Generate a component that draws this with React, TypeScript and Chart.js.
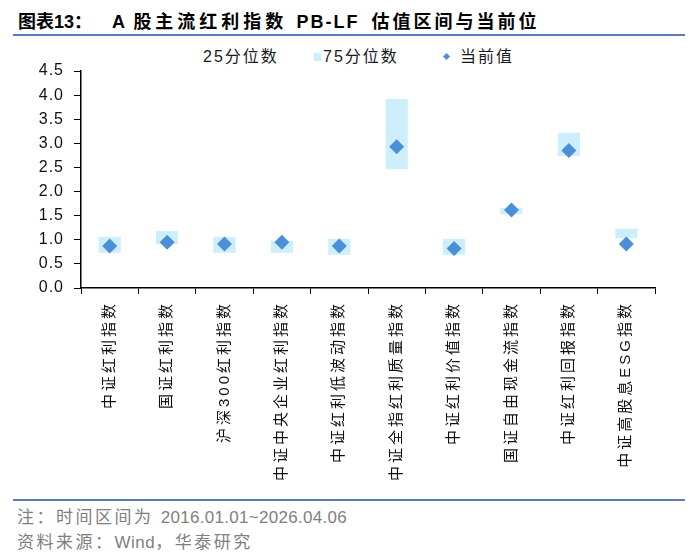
import React, { useEffect, useRef } from 'react';
import { Chart, registerables } from 'chart.js';

Chart.register(...registerables);

// 数据
const categories = [
  '中证红利指数',
  '国证红利指数',
  '沪深300红利指数',
  '中证中央企业红利指数',
  '中证红利低波动指数',
  '中证全指红利质量指数',
  '中证红利价值指数',
  '国证自由现金流指数',
  '中证红利回报指数',
  '中证高股息ESG指数',
];
const q25 = [0.73, 0.91, 0.73, 0.73, 0.69, 2.46, 0.69, 1.53, 2.74, 1.03];
const q75 = [1.06, 1.18, 1.06, 0.98, 1.02, 3.92, 1.02, 1.66, 3.22, 1.23];
const current = [0.87, 0.95, 0.91, 0.95, 0.87, 2.93, 0.82, 1.62, 2.85, 0.91];
const seriesNames = ['25分位数', '75分位数', '当前值'];
const yMin = 0;
const yMax = 4.5;
const yStep = 0.5;

const FONT = '"Liberation Sans", Arial, "Noto Sans CJK SC", sans-serif';
const BOX_COLOR = '#CDEEFB';
const DOT_COLOR = '#4A8FD8';
const RULE_COLOR = '#5B7DB5';

// 画布文字字距（Chart.js 本身不支持 letterSpacing）
const spacing: Record<string, string> = { x: '3px', y: '1px' };
const letterSpacingPlugin = {
  id: 'letterSpacing',
  beforeDraw(chart: any) {
    Object.keys(spacing).forEach((id) => {
      const scale = chart.scales[id];
      if (!scale || scale._spaced) return;
      const orig = scale.drawLabels;
      scale.drawLabels = function (area: any) {
        const ctx = chart.ctx;
        ctx.save();
        ctx.letterSpacing = spacing[id];
        orig.call(this, area);
        ctx.restore();
      };
      scale._spaced = true;
    });
  },
};

const App: React.FC = () => {
  const canvasRef = useRef<HTMLCanvasElement>(null);

  useEffect(() => {
    document.body.style.margin = '0';
    if (!canvasRef.current) return;

    const chart = new Chart(canvasRef.current, {
      type: 'bar',
      data: {
        labels: categories,
        datasets: [
          {
            label: seriesNames[0],
            data: q25,
            backgroundColor: 'rgba(0,0,0,0)',
            borderWidth: 0,
            categoryPercentage: 1,
            barPercentage: 0.385,
            order: 3,
          },
          {
            label: seriesNames[1],
            data: q25.map((v, i) => [v, q75[i]]) as any,
            backgroundColor: BOX_COLOR,
            borderWidth: 0,
            categoryPercentage: 1,
            barPercentage: 0.385,
            order: 2,
          },
          {
            type: 'line',
            label: seriesNames[2],
            data: current,
            showLine: false,
            pointStyle: 'rectRot',
            pointRadius: 7.5,
            pointBackgroundColor: DOT_COLOR,
            pointBorderWidth: 0,
            order: 1,
          } as any,
        ],
      },
      options: {
        responsive: true,
        maintainAspectRatio: false,
        animation: false,
        layout: { padding: { top: 31, right: 45, bottom: 0, left: 0 } },
        plugins: {
          legend: { display: false },
          tooltip: { enabled: false },
        },
        scales: {
          x: {
            stacked: true,
            offset: true,
            grid: {
              offset: true,
              drawOnChartArea: false,
              drawTicks: true,
              tickLength: 6,
              color: '#000',
            },
            border: { display: true, color: '#000', width: 1.5 },
            ticks: {
              autoSkip: false,
              minRotation: 90,
              maxRotation: 90,
              padding: 7,
              color: '#111',
              font: { family: FONT, size: 15 },
            },
            afterFit: (scale: any) => {
              scale.height = 212;
            },
          },
          y: {
            stacked: false,
            min: yMin,
            max: yMax,
            grid: {
              drawOnChartArea: false,
              drawTicks: true,
              tickLength: 7,
              color: '#000',
            },
            border: { display: true, color: '#000', width: 1.5 },
            ticks: {
              stepSize: yStep,
              padding: 10,
              color: '#111',
              font: { family: FONT, size: 16 },
              callback: (v: any) => Number(v).toFixed(1),
            },
            afterFit: (scale: any) => {
              scale.width = 81;
            },
          },
        },
      },
      plugins: [letterSpacingPlugin],
    });

    return () => chart.destroy();
  }, []);

  const legendText = { position: 'absolute' as const, top: 45, fontSize: 16, lineHeight: '24px', color: '#1a1a1a', letterSpacing: 2, whiteSpace: 'pre' as const };

  return (
    <div style={{ position: 'relative', width: 700, height: 560, background: '#fff', fontFamily: FONT, overflow: 'hidden' }}>
      {/* 标题 */}
      <div style={{ position: 'absolute', left: 18, top: 9, fontSize: 18, lineHeight: '26px', fontWeight: 'bold', color: '#000', whiteSpace: 'pre' }}>
        <span>图表13：</span>
        <span style={{ marginLeft: 20 }}>A </span>
        <span style={{ marginLeft: 4, letterSpacing: 4 }}>股主流红利指数 </span>
        <span style={{ letterSpacing: 2 }}>PB-LF </span>
        <span style={{ marginLeft: 5, letterSpacing: 3 }}>估值区间与当前位</span>
      </div>
      <div style={{ position: 'absolute', left: 13, top: 34, width: 672, height: 2, background: RULE_COLOR }} />

      {/* 图例 */}
      <div style={{ ...legendText, left: 203 }}>{seriesNames[0]}</div>
      <div style={{ position: 'absolute', left: 314, top: 53, width: 7, height: 8, background: BOX_COLOR }} />
      <div style={{ ...legendText, left: 323 }}>{seriesNames[1]}</div>
      <div style={{ position: 'absolute', left: 444, top: 54, width: 5, height: 5, background: DOT_COLOR, transform: 'rotate(45deg)' }} />
      <div style={{ ...legendText, left: 460 }}>{seriesNames[2]}</div>

      {/* 图表 */}
      <div style={{ position: 'absolute', left: 0, top: 40, width: 700, height: 460 }}>
        <canvas ref={canvasRef} />
      </div>

      {/* 注释与来源 */}
      <div style={{ position: 'absolute', left: 13, top: 499, width: 672, height: 2, background: RULE_COLOR }} />
      <div style={{ position: 'absolute', left: 17, top: 506, fontSize: 17, lineHeight: '24px', color: '#7f7f7f', whiteSpace: 'pre' }}>
        <span style={{ letterSpacing: 2.5 }}>注：时间区间为 </span>
        <span style={{ letterSpacing: 0.3 }}>2016.01.01~2026.04.06</span>
      </div>
      <div style={{ position: 'absolute', left: 17, top: 531, fontSize: 17, lineHeight: '24px', color: '#7f7f7f', whiteSpace: 'pre' }}>
        <span style={{ letterSpacing: 2.5 }}>资料来源：</span>
        <span style={{ letterSpacing: 0.5 }}>Wind</span>
        <span style={{ letterSpacing: 2.5 }}>，华泰研究</span>
      </div>
    </div>
  );
};

export default App;
